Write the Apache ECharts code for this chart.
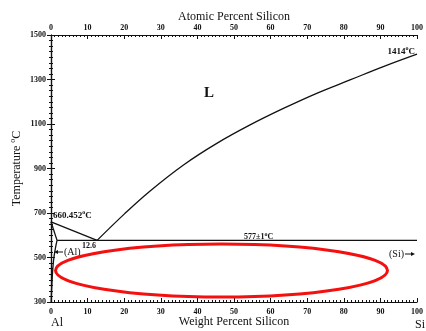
<!DOCTYPE html>
<html>
<head>
<meta charset="utf-8">
<script src="https://cdn.jsdelivr.net/npm/echarts@6/dist/echarts.min.js"></script>
<style>
    html, body { margin: 0; padding: 0; background: #fff; }
    #chart { width: 426px; height: 331px; }
</style>
</head>
<body>
<div id="chart"></div>
<script>
// Al-Si phase diagram (weight % Si, deg C)
var liquidusAl = [[0, 660.452], [12.6, 577]];
var liquidusSi = [[12.6, 577], [20, 695], [27, 798], [36.2, 916], [45.3, 1013],
    [54.4, 1096], [63.5, 1170], [72.6, 1238], [81.7, 1298], [90.8, 1358], [100, 1414]];
var solidusAl = [[0, 660.452], [1.65, 577]];
var solvusAl = [[1.65, 577], [1.3, 550], [0.8, 500], [0.5, 450], [0.3, 400], [0.15, 350], [0.05, 300]];
var eutectic = [[1.65, 577], [100, 577]];

var SERIF = "'Liberation Serif', 'DejaVu Serif', serif";
var INK = '#111';

/**
 * 生成一条黑色相线
 */
function phaseLine(name, data, smooth) {
    return {
        name: name,
        type: 'line',
        data: data,
        smooth: smooth,
        symbol: 'none',
        silent: true,
        animation: false,
        lineStyle: {color: INK, width: 1.3}
    };
}

function plainNumber(v) {
    return String(v);
}

function xAxisCfg(pos, name, gap, labelMargin) {
    return {
        type: 'value',
        position: pos,
        min: 0,
        max: 100,
        interval: 10,
        name: name,
        nameLocation: 'middle',
        nameGap: gap,
        nameMoveOverlap: false,
        nameTextStyle: {fontFamily: SERIF, fontSize: 12, color: INK},
        axisLine: {lineStyle: {color: INK, width: 1.2}},
        axisTick: {inside: true, length: 4, lineStyle: {color: INK}},
        minorTick: {show: true, splitNumber: 10, length: 2, lineStyle: {color: INK}},
        axisLabel: {fontFamily: SERIF, fontSize: 8, fontWeight: 'bold', color: INK, margin: labelMargin, formatter: plainNumber},
        splitLine: {show: false}
    };
}

function yAxisCfg(pos, showLabel) {
    return {
        type: 'value',
        position: pos,
        min: 300,
        max: 1500,
        interval: 200,
        name: showLabel ? 'Temperature {s|o}C' : '',
        nameLocation: 'middle',
        nameGap: 27,
        nameMoveOverlap: false,
        nameTextStyle: {
            fontFamily: SERIF, fontSize: 12, color: INK, lineHeight: 15,
            rich: {s: {fontFamily: SERIF, fontSize: 8, color: INK, verticalAlign: 'top', lineHeight: 8}}
        },
        axisLine: {lineStyle: {color: INK, width: 1.2}},
        axisTick: {inside: false, length: 4, lineStyle: {color: INK}},
        minorTick: {show: true, splitNumber: 8, length: 2, lineStyle: {color: INK}},
        axisLabel: {show: showLabel, fontFamily: SERIF, fontSize: 8, fontWeight: 'bold', color: INK, margin: 5, formatter: plainNumber},
        splitLine: {show: false}
    };
}

function note(text, x, y, size, align, weight) {
    return {
        type: 'text',
        x: x,
        y: y,
        z: 50,
        style: {
            text: text,
            fontFamily: SERIF,
            fontSize: size,
            fontWeight: weight || 'bold',
            fill: INK,
            lineHeight: size + 4,
            align: align, textAlign: align,
            verticalAlign: 'middle', textVerticalAlign: 'middle',
            rich: {s: {fontFamily: SERIF, fontSize: 6, fontWeight: 'bold', fill: INK, verticalAlign: 'top', lineHeight: 6}}
        }
    };
}

function arrow(x1, x2, y) {
    var dir = x2 > x1 ? 1 : -1;
    return [{
        type: 'line', z: 50,
        shape: {x1: x1, y1: y, x2: x2 - dir * 3, y2: y},
        style: {stroke: INK, lineWidth: 1}
    }, {
        type: 'polygon', z: 50,
        shape: {points: [[x2, y], [x2 - dir * 4, y - 2], [x2 - dir * 4, y + 2]]},
        style: {fill: INK}
    }];
}

var myChart = echarts.init(document.getElementById('chart'));
var option = {
    animation: false,
    backgroundColor: '#fff',
    grid: {left: 51, right: 9, top: 35, bottom: 29, containLabel: false, outerBoundsMode: 'none'},
    xAxis: [
        xAxisCfg('bottom', 'Weight Percent Silicon', 14, 6),
        xAxisCfg('top', 'Atomic Percent Silicon', 12, 3)
    ],
    yAxis: [yAxisCfg('left', true), yAxisCfg('right', false)],
    series: [
        phaseLine('liquidusAl', liquidusAl, false),
        phaseLine('liquidusSi', liquidusSi, 0.4),
        phaseLine('solidusAl', solidusAl, false),
        phaseLine('solvusAl', solvusAl, 0.3),
        phaseLine('eutectic', eutectic, false)
    ],
    graphic: [
        note('660.452{s|o}C', 53, 216, 9, 'left'),
        note('12.6', 82, 246, 8, 'left'),
        note('577±1{s|o}C', 244, 237, 8, 'left'),
        note('1414{s|o}C', 415, 52, 9, 'right'),
        note('L', 209, 93, 15, 'center'),
        note('(Al)', 64, 252, 10, 'left', 'normal'),
        note('(Si)', 404, 254, 10, 'right', 'normal'),
        note('Al', 51, 323, 12, 'left', 'normal'),
        note('Si', 415, 325, 12, 'left', 'normal'),
        {
            type: 'ellipse',
            z: 100,
            shape: {cx: 221.5, cy: 270.5, rx: 166, ry: 26.5},
            style: {fill: 'none', stroke: '#f51010', lineWidth: 3}
        }
    ].concat(arrow(63, 54, 252), arrow(405, 415, 254))
};
myChart.setOption(option, true);
</script>
</body>
</html>
